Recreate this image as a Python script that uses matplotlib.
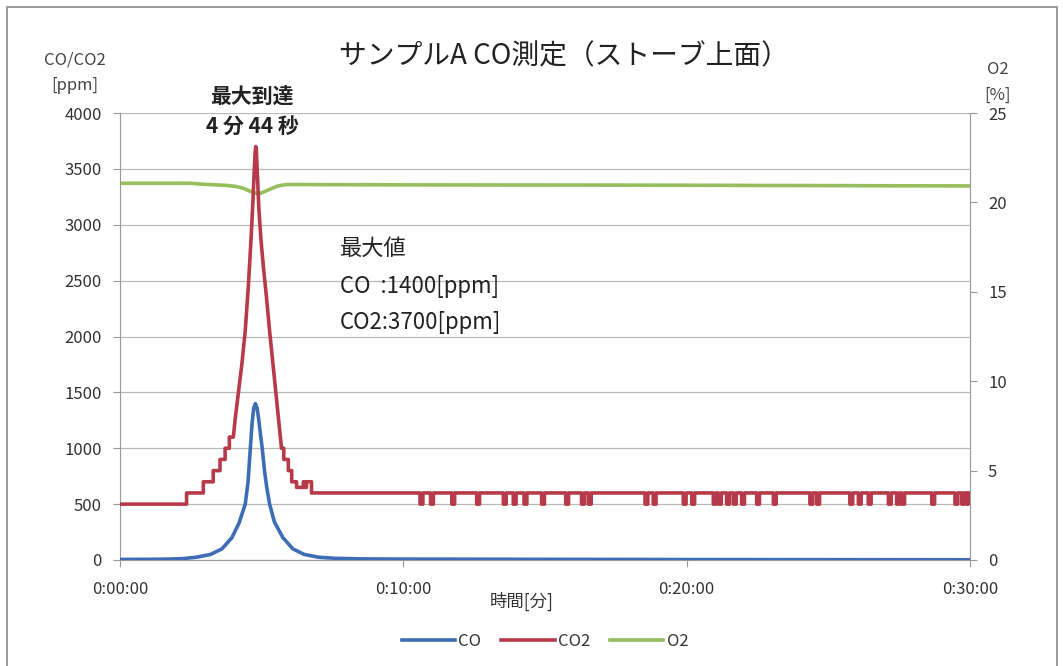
import numpy as np
import matplotlib
matplotlib.use('Agg')
import matplotlib.pyplot as plt
from matplotlib.patches import Rectangle
from matplotlib.ticker import FuncFormatter

plt.rcParams['font.family'] = ['Noto Sans CJK JP', 'DejaVu Sans']

# CO [ppm] (time in minutes)
co_t = [0, 1.5, 2.2, 2.7, 3.2, 3.6, 3.95, 4.2, 4.42, 4.52, 4.6, 4.66, 4.72, 4.78,
        4.84, 4.9, 4.96, 5.02, 5.1, 5.18, 5.28, 5.45, 5.75, 6.1, 6.5, 7.0, 7.6,
        8.5, 10.0, 15.0, 20.0, 25.0, 30.0]
co_v = [5, 7, 12, 25, 50, 100, 200, 330, 500, 700, 1000, 1220, 1360, 1400,
        1360, 1250, 1120, 1000, 800, 650, 500, 340, 200, 100, 50, 25, 15,
        10, 8, 6, 4, 3, 2]

# CO2 [ppm]: step levels before the peak, the peak itself, step levels after
co2_pre_t = [0, 2.35, 2.94, 3.29, 3.53, 3.71, 3.86]
co2_pre_v = [500, 600, 700, 800, 900, 1000, 1100]
co2_peak_t = [4.0, 4.06, 4.18, 4.3, 4.42, 4.53, 4.62, 4.69, 4.74, 4.77, 4.79,
              4.81, 4.85, 4.9, 4.98, 5.07, 5.17, 5.28, 5.38, 5.48, 5.58, 5.7]
co2_peak_v = [1100, 1250, 1500, 1750, 2050, 2450, 2850, 3200, 3500, 3650, 3700,
              3680, 3450, 3150, 2850, 2600, 2350, 2050, 1800, 1550, 1300, 1000]
co2_post_t = [5.7, 5.78, 5.94, 6.06, 6.23, 6.47, 6.53, 6.58, 6.76]
co2_post_v = [1000, 900, 800, 700, 650, 700, 650, 700, 600]
# moments where CO2 reading briefly fell from 600 to 500
co2_dips = [10.59, 10.96, 11.71, 12.59, 13.53, 13.88, 14.26, 14.88, 15.73, 16.29, 16.53,
            18.53, 18.82, 19.88, 20.18, 20.94, 21.12, 21.41, 21.65, 21.94, 22.47, 23.06,
            24.35, 24.59, 25.76, 26.06, 26.41, 27.12, 27.41, 27.59, 28.65, 29.47, 29.71, 29.88]

# O2 [%]
o2_t = [0, 2.5, 2.88, 3.3, 3.76, 4.1, 4.35, 4.6, 4.88, 5.1, 5.41, 5.6, 5.88, 10.2, 16.9, 30]
o2_v = [21.07, 21.07, 21.02, 20.99, 20.95, 20.89, 20.79, 20.62, 20.47, 20.6, 20.82,
        20.93, 21.0, 20.98, 20.97, 20.92]


def stepped(times, levels, end):
    # turn step changes into line coordinates
    xs, ys = [], []
    bounds = list(times[1:]) + [end]
    for t0, t1, v in zip(times, bounds, levels):
        xs += [t0, t1]
        ys += [v, v]
    return xs, ys


x1, y1 = stepped(co2_pre_t, co2_pre_v, co2_peak_t[0])
x3, y3 = stepped(co2_post_t, co2_post_v, co2_dips[0])
x4, y4 = [], []
for i, d in enumerate(co2_dips):
    nxt = co2_dips[i + 1] if i + 1 < len(co2_dips) else 30
    w = min(0.1, (nxt - d) / 2)
    x4 += [d, d, d + w, d + w, nxt]
    y4 += [600, 500, 500, 600, 600]
co2_x = x1 + co2_peak_t + x3 + x4
co2_y = y1 + co2_peak_v + y3 + y4


def px(x, y):
    return x / 1063, 1 - y / 666


fig = plt.figure(figsize=(10.63, 6.66), dpi=100)
ax = fig.add_axes([120 / 1063, 1 - 560 / 666, 850 / 1063, 447 / 666])
ax2 = ax.twinx()

c_co, c_co2, c_o2 = '#3E6DB5', '#B63A4A', '#95BE5C'
l1, = ax.plot(co_t, co_v, color=c_co, lw=2.6, label='CO', zorder=3)
l2, = ax.plot(co2_x, co2_y, color=c_co2, lw=2.6, label='CO2', zorder=4)
l3, = ax2.plot(o2_t, o2_v, color=c_o2, lw=2.6, label='O2')
ax.set_zorder(ax2.get_zorder() + 1)
ax.patch.set_visible(False)

ax.set_xlim(0, 30)
ax.set_ylim(0, 4000)
ax2.set_ylim(0, 25)
ax.set_xticks([0, 10, 20, 30])
ax.xaxis.set_major_formatter(FuncFormatter(lambda v, p: '0:%02d:00' % int(round(v))))
ax.set_yticks(np.arange(0, 4001, 500))
ax2.set_yticks(np.arange(0, 26, 5))
ax.grid(axis='y', color='#B8B8B8', lw=0.9)

for a in (ax, ax2):
    for s in a.spines.values():
        s.set_visible(False)
    a.tick_params(labelsize=12, colors='#333333', length=5, color='#999999', width=0.8)
ax.spines['left'].set_visible(True)
ax.spines['left'].set_color('#999999')
ax.spines['bottom'].set_visible(True)
ax.spines['bottom'].set_color('#999999')
ax2.spines['right'].set_visible(True)
ax2.spines['right'].set_color('#999999')
ax.tick_params(axis='y', pad=8)
ax.tick_params(axis='x', pad=10)
ax2.tick_params(axis='y', pad=8)

fig.text(*px(564, 56), 'サンプルA CO測定（ストーブ上面）', fontsize=20, ha='center', va='center', color='#222222')
fig.text(*px(75, 60), 'CO/CO2', fontsize=12, ha='center', va='center', color='#444444')
fig.text(*px(75, 86), '[ppm]', fontsize=12, ha='center', va='center', color='#444444')
fig.text(*px(998, 70), 'O2', fontsize=12, ha='center', va='center', color='#444444')
fig.text(*px(998, 95), '[%]', fontsize=12, ha='center', va='center', color='#444444')
fig.text(*px(522, 601), '時間[分]', fontsize=12.5, ha='center', va='center', color='#333333')

fig.text(*px(252, 97), '最大到達', fontsize=15, fontweight='bold', ha='center', va='center', color='#222222')
fig.text(*px(252, 127), '4 分 44 秒', fontsize=15, fontweight='bold', ha='center', va='center', color='#222222')
fig.text(*px(340, 248), '最大値', fontsize=16, ha='left', va='center', color='#222222')
fig.text(*px(340, 287), 'CO  :1400[ppm]', fontsize=16, ha='left', va='center', color='#222222')
fig.text(*px(340, 323), 'CO2:3700[ppm]', fontsize=16, ha='left', va='center', color='#222222')

fig.legend([l1, l2, l3], ['CO', 'CO2', 'O2'], loc='center', bbox_to_anchor=px(545, 641),
           ncol=3, frameon=False, fontsize=12, handlelength=3.2, handletextpad=0.2,
           columnspacing=1.2, labelcolor='#333333')

fig.add_artist(Rectangle((7 / 1063, -0.02), 1050 / 1063, 1.01, transform=fig.transFigure,
                         fill=False, edgecolor='#8A8A8A', lw=1.2))

fig.savefig('out.png', dpi=100)
